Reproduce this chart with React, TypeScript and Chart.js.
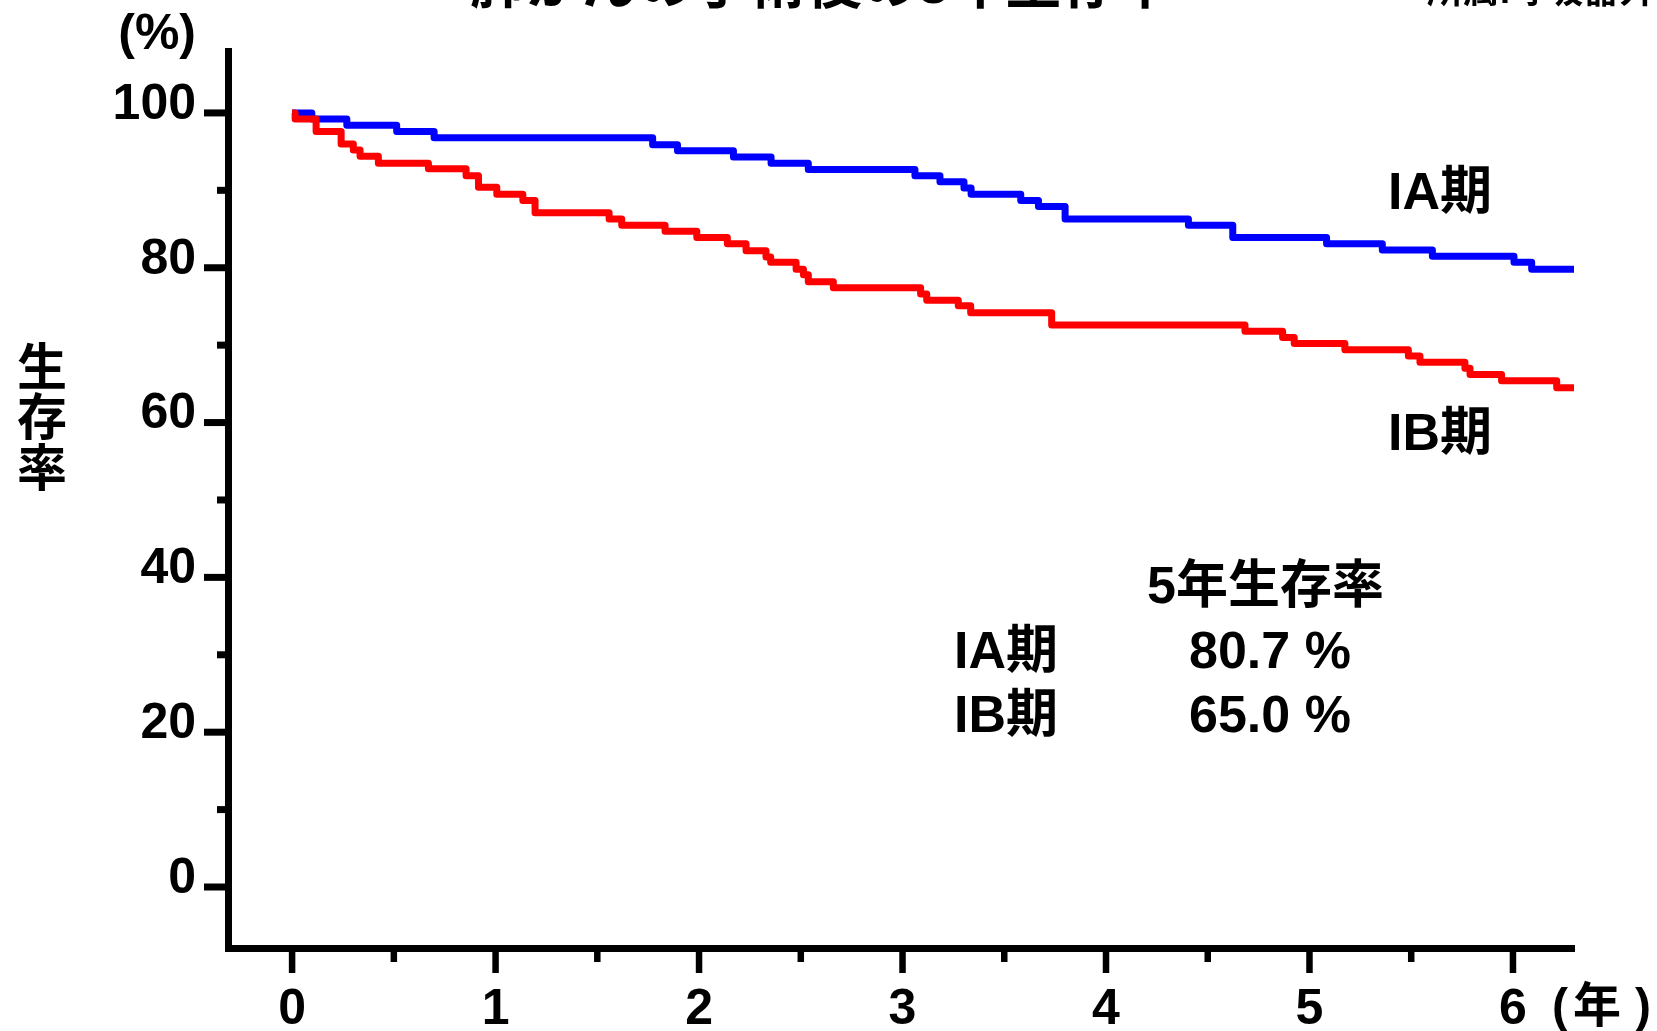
import React, { useEffect, useRef } from 'react';
import { Chart, registerables } from 'chart.js';

Chart.register(...registerables);

// ---- data (years after surgery, survival %) ----
const IA_TIMES = [0, 0.097, 0.269, 0.514, 0.698, 1.772, 1.894, 2.169, 2.354, 2.537, 3.061, 3.184, 3.302, 3.337, 3.581, 3.668, 3.799, 4.405, 4.623, 5.084, 5.358, 5.604, 6.005, 6.092, 6.31];
const IA_SURV = [100, 99.2, 98.4, 97.6, 96.8, 95.9, 95.1, 94.3, 93.5, 92.7, 91.9, 91.1, 90.3, 89.5, 88.7, 87.9, 86.3, 85.5, 83.9, 83.1, 82.3, 81.5, 80.7, 79.8, 79.8];

const IB_TIMES = [0, 0.015, 0.118, 0.241, 0.301, 0.334, 0.424, 0.67, 0.855, 0.916, 1.006, 1.134, 1.194, 1.558, 1.62, 1.833, 1.989, 2.139, 2.231, 2.329, 2.352, 2.477, 2.513, 2.537, 2.66, 3.089, 3.119, 3.274, 3.335, 3.733, 4.683, 4.868, 4.925, 5.174, 5.486, 5.543, 5.764, 5.789, 5.944, 6.215, 6.305];
const IB_SURV = [100, 99.2, 97.6, 96.0, 95.2, 94.4, 93.5, 92.8, 91.9, 90.4, 89.5, 88.7, 87.1, 86.3, 85.5, 84.7, 83.9, 83.1, 82.2, 81.4, 80.7, 79.8, 79.1, 78.2, 77.4, 76.6, 75.8, 75.1, 74.2, 72.6, 71.8, 71.0, 70.2, 69.4, 68.6, 67.8, 67.0, 66.2, 65.4, 64.5, 64.5];

const X_MAJOR = [0, 1, 2, 3, 4, 5, 6];
const X_MINOR = [0.5, 1.5, 2.5, 3.5, 4.5, 5.5];
const Y_MAJOR = [0, 20, 40, 60, 80, 100];
const Y_MINOR = [10, 30, 50, 70, 90];

const SERIES_NAMES = ['IA期', 'IB期'];
const RATE_HEADER = '5年生存率';
const RATES = ['80.7 %', '65.0 %'];
const TITLE = '肺がんの手術後の5年生存率';
const SOURCE = '所属:呼吸器外科';
const Y_TITLE = ['生', '存', '率'];
const Y_UNIT = '(%)';
const X_UNIT = ['(', '年', ')'];

const FAMILY = '"Liberation Sans", "Noto Sans CJK JP", Arial, sans-serif';
const f = (size: number) => `bold ${size}px ${FAMILY}`;

const decor = {
  id: 'decor',
  afterDraw(chart: any) {
    const ctx = chart.ctx as CanvasRenderingContext2D;
    const xs = chart.scales.x;
    const ys = chart.scales.y;
    ctx.save();
    ctx.strokeStyle = '#000';
    ctx.lineCap = 'butt';
    const seg = (x1: number, y1: number, x2: number, y2: number) => {
      ctx.beginPath();
      ctx.moveTo(x1, y1);
      ctx.lineTo(x2, y2);
      ctx.stroke();
    };
    // y tick marks
    const yr = ys.right;
    ctx.lineWidth = 7;
    Y_MAJOR.forEach((v) => { const p = ys.getPixelForValue(v); seg(yr - 24, p, yr, p); });
    Y_MINOR.forEach((v) => { const p = ys.getPixelForValue(v); seg(yr - 11, p, yr, p); });
    // x tick marks
    const xt = xs.top;
    ctx.lineWidth = 6.5;
    X_MAJOR.forEach((v) => { const p = xs.getPixelForValue(v); seg(p, xt, p, xt + 25); });
    X_MINOR.forEach((v) => { const p = xs.getPixelForValue(v); seg(p, xt, p, xt + 14); });

    ctx.fillStyle = '#000';
    ctx.textBaseline = 'alphabetic';
    ctx.textAlign = 'left';
    // cut-off title and source at top edge
    ctx.font = f(56);
    ctx.fillText(TITLE, 470, 3);
    ctx.font = f(36);
    ctx.fillText(SOURCE, 1427, 3);

    // series labels
    ctx.font = f(52);
    ctx.fillText(SERIES_NAMES[0], 1388, 209);
    ctx.fillText(SERIES_NAMES[1], 1388, 450);
    // 5-year table
    ctx.fillText(RATE_HEADER, 1147, 603);
    ctx.fillText(SERIES_NAMES[0], 954, 668);
    ctx.fillText(RATES[0], 1189, 668);
    ctx.fillText(SERIES_NAMES[1], 954, 732);
    ctx.fillText(RATES[1], 1189, 732);

    // y axis unit
    ctx.font = f(50);
    ctx.textAlign = 'right';
    ctx.fillText(Y_UNIT, 196, 49);

    // y title vertical
    ctx.font = f(50);
    ctx.textAlign = 'center';
    ctx.textBaseline = 'middle';
    const ty = [371, 421, 472];
    Y_TITLE.forEach((c, i) => ctx.fillText(c, 42, ty[i]));

    // x unit
    ctx.textBaseline = 'alphabetic';
    ctx.font = f(48);
    const ux = [1560, 1597, 1643];
    X_UNIT.forEach((c, i) => ctx.fillText(c, ux[i], 1022));
    ctx.restore();
  },
};

export default function App() {
  const ref = useRef<HTMLCanvasElement>(null);
  useEffect(() => {
    document.body.style.margin = '0';
    document.body.style.overflow = 'hidden';
    const tickFont = { family: FAMILY, size: 50, weight: 'bold' as const, lineHeight: 1.2 };
    const chart = new Chart(ref.current as HTMLCanvasElement, {
      type: 'line',
      data: {
        datasets: [
          {
            label: SERIES_NAMES[0],
            data: IA_TIMES.map((t, i) => ({ x: t, y: IA_SURV[i] })),
            borderColor: '#0000ff',
            backgroundColor: '#0000ff',
            borderWidth: 7,
            stepped: true,
            pointRadius: 0,
            fill: false,
            borderJoinStyle: 'round',
            order: 1,
          },
          {
            label: SERIES_NAMES[1],
            data: IB_TIMES.map((t, i) => ({ x: t, y: IB_SURV[i] })),
            borderColor: '#ff0000',
            backgroundColor: '#ff0000',
            borderWidth: 7,
            stepped: true,
            pointRadius: 0,
            fill: false,
            borderJoinStyle: 'round',
            order: 0,
          },
        ],
      },
      options: {
        animation: false,
        responsive: false,
        devicePixelRatio: 1,
        layout: { padding: { left: 0, top: 51, right: 83, bottom: 0 } },
        plugins: { legend: { display: false }, tooltip: { enabled: false }, title: { display: false } },
        scales: {
          x: {
            type: 'linear',
            min: -0.315,
            max: 6.3,
            grid: { display: false, drawTicks: false },
            border: { display: true, color: '#000', width: 7 },
            afterBuildTicks: (s: any) => { s.ticks = X_MAJOR.map((v) => ({ value: v })); },
            afterFit: (s: any) => { s.height = 83; s.paddingLeft = 0; s.paddingRight = 0; s.paddingTop = 0; s.paddingBottom = 0; },
            ticks: { font: tickFont, color: '#000', padding: 32, maxRotation: 0, autoSkip: false },
          },
          y: {
            type: 'linear',
            min: -7.88,
            max: 108,
            grid: { display: false, drawTicks: false },
            border: { display: true, color: '#000', width: 7 },
            afterBuildTicks: (s: any) => { s.ticks = Y_MAJOR.map((v) => ({ value: v })); },
            afterFit: (s: any) => { s.width = 228; s.paddingLeft = 0; s.paddingRight = 0; s.paddingTop = 0; s.paddingBottom = 0; },
            ticks: { font: tickFont, color: '#000', padding: 32, labelOffset: -8, autoSkip: false },
          },
        },
      },
      plugins: [decor],
    } as any);
    return () => chart.destroy();
  }, []);
  return (
    <div style={{ position: 'absolute', left: 0, top: 0, width: 1657, height: 1031, background: '#fff' }}>
      <canvas ref={ref} width={1657} height={1031} />
    </div>
  );
}
